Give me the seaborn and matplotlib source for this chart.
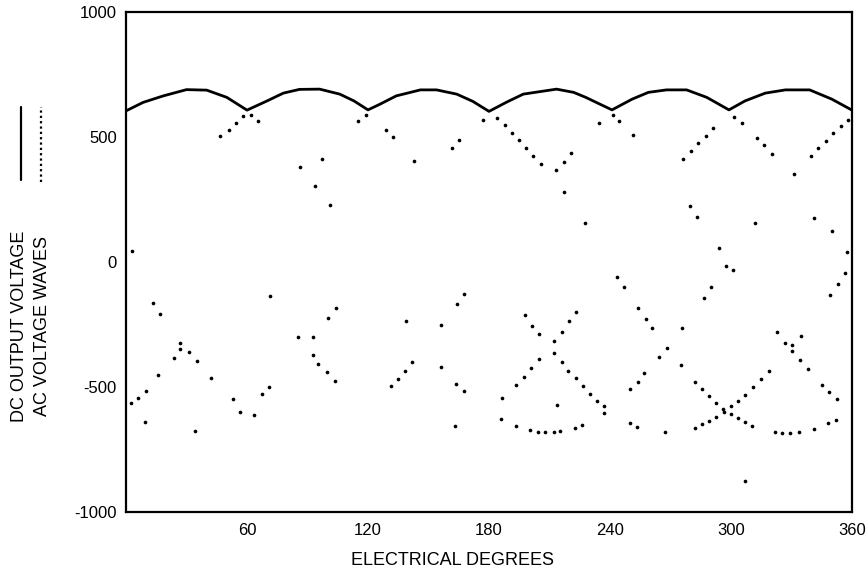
import matplotlib
matplotlib.use("Agg")
import matplotlib.pyplot as plt
from matplotlib.lines import Line2D
import seaborn as sns
import pandas as pd

# DC output voltage (solid curve)
dc_deg = [0, 8.5, 18.5, 30, 40, 50, 60, 70, 78, 86, 96, 106, 113, 120, 126, 134, 146, 154,
          164, 172, 180, 189, 197, 213.5, 222, 228, 235, 241, 251, 259, 268, 278, 288, 299,
          307, 317, 327, 339, 350, 360]
dc_volt = [605, 639, 665, 690, 688, 659, 608, 645, 676, 691, 692, 672, 645, 609, 632, 665, 689, 689,
           672, 643, 603, 641, 672, 692, 679, 659, 632, 609, 652, 679, 689, 689, 659, 609,
           645, 676, 689, 689, 652, 608]

# AC voltage waves (dotted samples)
ac_deg = [3, 13.5, 17, 27, 27, 24, 31, 35, 42, 16, 10, 6, 2.5, 9.5, 34, 46.5, 51, 54.5, 58, 62,
          65.5, 86.5, 71.5, 97, 93.5, 101, 104, 100, 85.5, 92.5, 92.5, 95, 99.5, 103.5, 71, 67.5,
          53, 56.5, 63.5, 115, 119, 129, 132.5, 143, 165, 161.5, 177, 167.5, 164, 139, 156, 142,
          138.5, 135, 131.5, 156, 163.5, 167.5, 163, 184, 188, 191.5, 195, 198.5, 202, 206, 213,
          217, 220.5, 217, 234.5, 227.5, 198, 201.5, 205, 212, 216, 219.5, 223, 212, 205, 201,
          197.5, 193.5, 186.5, 216, 219, 223, 226.5, 230, 233.5, 237, 237, 213.5, 186, 193.5,
          200.5, 204.5, 208, 212, 215, 222.5, 226, 241.5, 244.5, 251.5, 291, 287.5, 283.5, 280,
          276, 305.5, 301.5, 279.5, 283, 294, 297.5, 301, 243.5, 247, 290, 286.5, 254, 258, 261,
          275.5, 268.5, 264.5, 275, 257, 254, 250, 282, 285.5, 289, 292.5, 296, 296.5, 300,
          303.5, 307, 303.5, 300, 292.5, 289, 285.5, 282, 267.5, 253.5, 250, 307, 313, 316.5,
          320.5, 331.5, 339.5, 343, 347, 350.5, 354.5, 358, 312, 341, 350, 357.5, 356.5, 353,
          349, 323, 334.5, 327, 330.5, 330.5, 334, 338, 319, 315, 311, 345, 348.5, 352.5, 307,
          310.5, 322, 325.5, 329.5, 333.5, 341, 348, 352]
ac_volt = [45, -165, -208, -324, -348, -385, -361, -397, -463, -452, -515, -543, -565, -641, -677,
           503, 529, 556, 583, 588, 566, 380, -137, 411, 305, 227, -183, -224, -301, -301, -373,
           -408, -441, -475, -501, -529, -549, -600, -612, 565, 588, 529, 500, 403, 488, 456, 570,
           -128, -169, -235, -252, -400, -436, -467, -495, -421, -489, -517, -657, 575, 548, 517,
           488, 457, 424, 391, 368, 401, 435, 279, 555, 156, -212, -255, -289, -316, -279, -237,
           -200, -365, -388, -424, -459, -491, -543, -401, -435, -465, -497, -529, -555, -576,
           -605, -571, -628, -656, -673, -679, -679, -679, -676, -665, -652, 588, 565, 508, 536,
           505, 475, 445, 413, 555, 579, 223, 181, 55, -17, -31, -59, -100, -101, -145, -185,
           -228, -265, -265, -344, -380, -413, -445, -479, -509, -480, -509, -537, -564, -588,
           -601, -577, -555, -532, -624, -607, -619, -637, -649, -664, -681, -660, -645, -875,
           496, 467, 433, 352, 424, 455, 485, 515, 544, 570, 155, 177, 124, 39, -45, -89, -131,
           -281, -295, -323, -332, -357, -391, -427, -437, -468, -500, -491, -519, -547, -639,
           -655, -679, -683, -683, -681, -669, -645, -631]

x_ticks = [60, 120, 180, 240, 300, 360]
x_tick_labels = ["60", "120", "180", "240", "300", "360"]
y_ticks = [-1000, -500, 0, 500, 1000]
y_tick_labels = ["-1000", "-500", "0", "500", "1000"]
legend_labels = ["DC OUTPUT VOLTAGE", "AC VOLTAGE WAVES"]
x_title = "ELECTRICAL DEGREES"

sns.set_style("white")
plt.rcParams["font.family"] = ["Liberation Sans", "DejaVu Sans"]
plt.rcParams["text.color"] = "black"
plt.rcParams["axes.labelcolor"] = "black"
plt.rcParams["xtick.color"] = "black"
plt.rcParams["ytick.color"] = "black"

n = min(len(ac_deg), len(ac_volt))
dc = pd.DataFrame({"deg": dc_deg, "volt": dc_volt})
ac = pd.DataFrame({"deg": ac_deg[:n], "volt": ac_volt[:n]})

fig = plt.figure(figsize=(8.66, 5.78), dpi=100)
ax = fig.add_axes([0.1455, 0.114, 0.8383, 0.865])

sns.scatterplot(data=ac, x="deg", y="volt", ax=ax, color="black", s=7,
                linewidth=0, marker="o", legend=False)
sns.lineplot(data=dc, x="deg", y="volt", ax=ax, color="black", linewidth=2.0,
             legend=False, sort=False)

ax.set_xlim(0, 360)
ax.set_ylim(-1000, 1000)
ax.set_xticks(x_ticks)
ax.set_xticklabels(x_tick_labels)
ax.set_yticks(y_ticks)
ax.set_yticklabels(y_tick_labels)
ax.tick_params(axis="x", length=0, pad=8, labelsize=12, labelcolor="black")
ax.tick_params(axis="y", direction="inout", length=7, width=1.2, pad=3, labelsize=12,
               labelcolor="black")
ax.set_xlabel("")
ax.set_ylabel("")
for sp in ax.spines.values():
    sp.set_visible(True)
    sp.set_color("black")
    sp.set_linewidth(1.6)

fig.text(0.522, 0.031, x_title, ha="center", va="center", fontsize=13, color="black")
fig.text(0.0225, 0.436, legend_labels[0], rotation=90, ha="center", va="center",
         fontsize=13, color="black")
fig.text(0.049, 0.436, legend_labels[1], rotation=90, ha="center", va="center",
         fontsize=13, color="black")

# legend samples (rotated legend above the labels)
fig.add_artist(Line2D([21 / 866, 21 / 866], [1 - 180 / 578, 1 - 107 / 578],
                      transform=fig.transFigure, color="black", linewidth=1.6))
fig.add_artist(Line2D([41 / 866, 41 / 866], [1 - 182 / 578, 1 - 107 / 578],
                      transform=fig.transFigure, color="black", linewidth=1.6,
                      linestyle=(0, (1, 1.4))))

fig.savefig("out.png", dpi=100)
